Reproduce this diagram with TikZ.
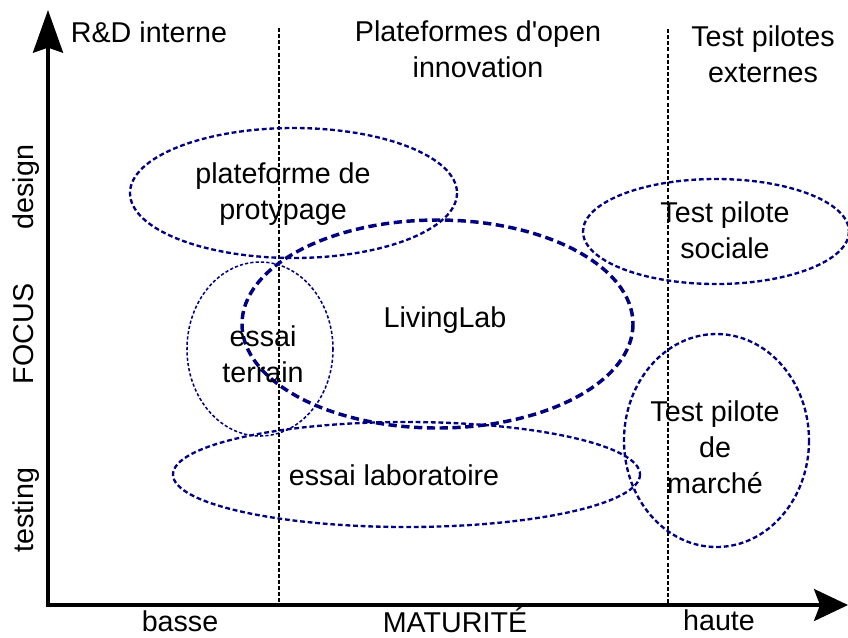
\documentclass[tikz,border=0pt]{standalone}
\usepackage{fontspec}
\setmainfont{Liberation Sans}
\usetikzlibrary{arrows.meta}
\definecolor{navyblue}{RGB}{0,0,128}
\begin{document}
\begin{tikzpicture}[x=0.75pt,y=-0.75pt,
  lbl/.style={font=\fontsize{21.5}{27}\selectfont, inner sep=0pt, align=center},
  zone/.style={draw=navyblue, line width=1.75pt, dash pattern=on 3.6pt off 2.1pt},
  zonefine/.style={draw=navyblue, line width=1.15pt, dash pattern=on 2.4pt off 1.6pt},
  zonebold/.style={draw=navyblue, line width=2.6pt, dash pattern=on 6.2pt off 3.4pt},
  divider/.style={black, line width=1.8pt, dash pattern=on 3pt off 1.6pt},
  axisline/.style={line width=2.5pt, line join=miter}
]
\clip (0,0) rectangle (848,637);
\fill[white] (0,0) rectangle (848,637);

% axes
\coordinate (ytip) at (48,10);
\coordinate (origin) at (48,605);
\coordinate (xtip) at (848,605);
\draw[axisline, {Stealth[length=32pt,width=22.5pt,inset=3.75pt]}-{Stealth[length=25.5pt,width=24pt,inset=4.5pt]}] (ytip) -- (origin) -- (xtip);

% dividers
\coordinate (d1top) at (279,28);
\coordinate (d1bot) at (279,605);
\coordinate (d2top) at (668,29);
\coordinate (d2bot) at (668,605);
\draw[divider] (d1top) -- (d1bot);
\draw[divider] (d2top) -- (d2bot);

% zones
\draw[zone] (293.5,193) ellipse [x radius=163.5, y radius=65];
\draw[zone] (716,231.5) ellipse [x radius=133, y radius=52.5];
\draw[zonefine] (260,349) ellipse [x radius=73, y radius=87];
\draw[zone] (406.5,474.5) ellipse [x radius=233.5, y radius=52.5];
\draw[zone] (716.5,440.5) ellipse [x radius=92.5, y radius=106.5];
\draw[zonebold] (437.5,324) ellipse [x radius=195.5, y radius=104];

% column headers
\node[lbl, anchor=base] (rd) at (149,42) {R\&D interne};
\node[lbl] (plat) at (478,49.5) {Plateformes d\textquotesingle open\\innovation};
\node[lbl] (ext) at (763,54.5) {Test pilotes\\externes};

% zone labels
\node[lbl] (proto) at (283,194) {plateforme de\\protypage};
\node[lbl] (sociale) at (725,230.5) {Test pilote\\sociale};
\node[lbl, anchor=base] (living) at (445,327) {LivingLab};
\node[lbl] (terrain) at (263,354.5) {essai\\terrain};
\node[lbl, anchor=base] (labo) at (394,485) {essai laboratoire};
\node[lbl] (marche) at (715,447.5) {Test pilote\\de\\marché};

% axis labels
\node[lbl, anchor=base] (basse) at (180,631) {basse};
\node[lbl, anchor=base] (matur) at (455,632) {MATURIT\'E};
\node[lbl, anchor=base] (haute) at (719,630) {haute};
\node[lbl, anchor=base, rotate=90] (design) at (33,187) {design};
\node[lbl, anchor=base, rotate=90] (focus) at (33,334) {FOCUS};
\node[lbl, anchor=base, rotate=90] (testing) at (33,510) {testing};
\end{tikzpicture}
\end{document}
